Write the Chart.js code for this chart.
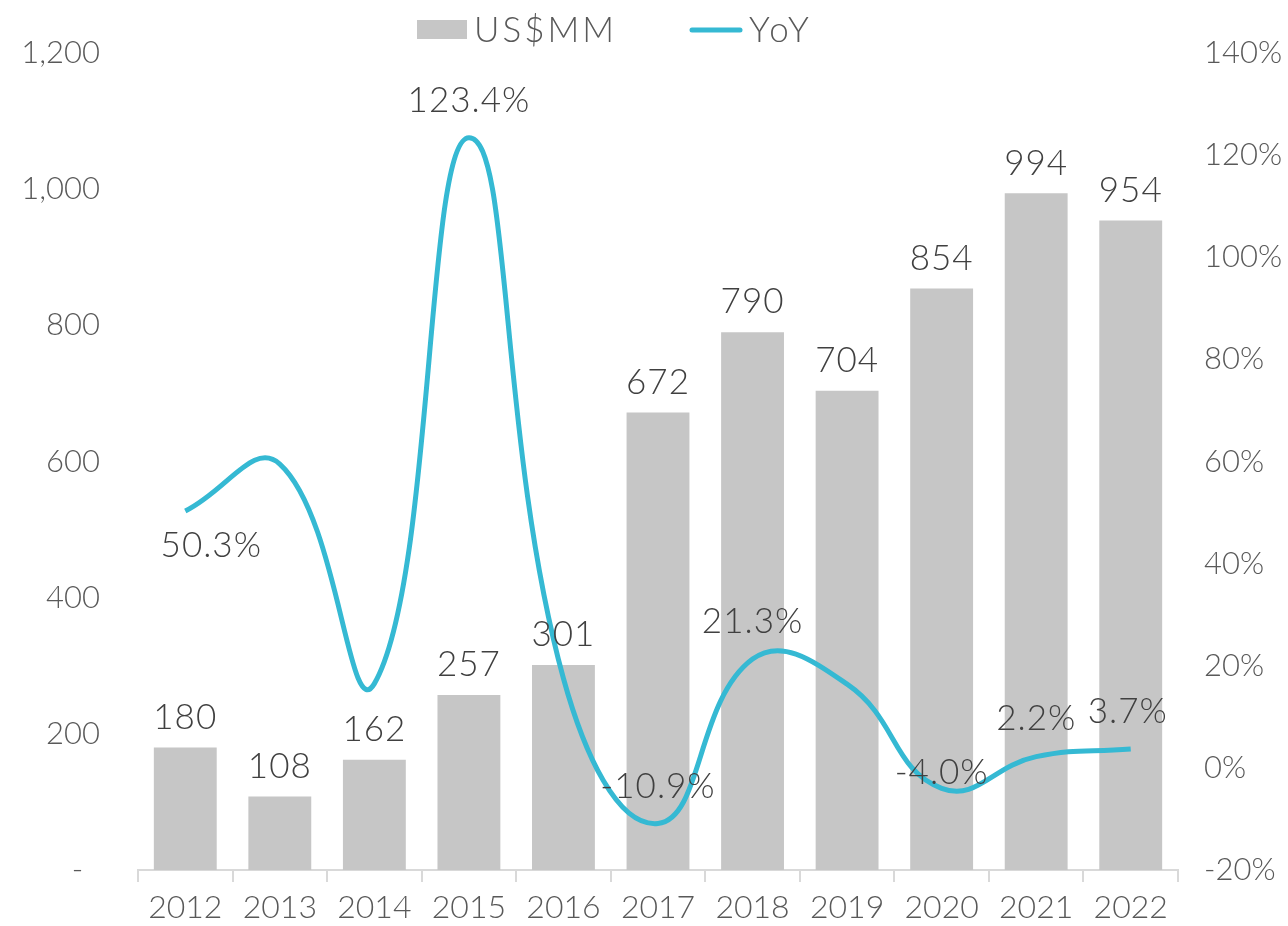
<!DOCTYPE html>
<html>
<head>
<meta charset="utf-8">
<script src="https://cdn.jsdelivr.net/npm/chart.js@4.4.1/dist/chart.umd.min.js"></script>
<style>
  html, body { margin: 0; padding: 0; background: #fff; }
  #wrap { width: 1288px; height: 926px; }
</style>
</head>
<body>
<div id="wrap"><canvas id="myChart" width="1288" height="926"></canvas></div>
<script>
const years = ['2012', '2013', '2014', '2015', '2016', '2017', '2018', '2019', '2020', '2021', '2022'];
const usdMM = [180, 108, 162, 257, 301, 672, 790, 704, 854, 994, 954];
const yoy = [50.3, 59.5, 16.5, 123.4, 17.5, -10.9, 21.3, 16.4, -4.0, 2.2, 3.7];
// which YoY points carry a label ('' = none)
const yoyLabels = ['50.3%', '', '', '123.4%', '', '-10.9%', '21.3%', '', '-4.0%', '2.2%', '3.7%'];

const barColor = '#c6c6c6';
const lineColor = '#35b9d3';
const font = 'Lato, "Open Sans", sans-serif';

const labelPlugin = {
    id: 'valueLabels',
    afterDatasetsDraw(chart) {
        const ctx = chart.ctx;
        ctx.save();
        ctx.fillStyle = '#404040';
        ctx.textAlign = 'center';
        ctx.textBaseline = 'middle';
        ctx.font = '300 35px ' + font;
        ctx.letterSpacing = '1px';
        chart.getDatasetMeta(1).data.forEach((bar, i) => {
            ctx.fillText(usdMM[i], bar.x, bar.y - 30);
        });
        // label shifts relative to the point (x, y up)
        const dx = [26, 0, 0, 0, 0, 0, 0, 0, 0, 0, -3];
        const dy = [-35, 0, 0, 37, 0, 37, 37, 0, 16, 38, 37];
        chart.getDatasetMeta(0).data.forEach((pt, i) => {
            if (!yoyLabels[i]) return;
            ctx.fillText(yoyLabels[i], pt.x + dx[i], pt.y - dy[i]);
        });
        ctx.restore();
    },
    afterDraw(chart) {
        // legend
        const ctx = chart.ctx;
        ctx.save();
        ctx.font = '300 35px ' + font;
        ctx.letterSpacing = '3px';
        ctx.fillStyle = barColor;
        ctx.fillRect(417, 20, 50, 19);
        ctx.fillStyle = '#595959';
        ctx.textBaseline = 'middle';
        ctx.fillText('US$MM', 474, 31);
        ctx.strokeStyle = lineColor;
        ctx.lineWidth = 5;
        ctx.lineCap = 'round';
        ctx.beginPath();
        ctx.moveTo(692, 30);
        ctx.lineTo(740, 30);
        ctx.stroke();
        ctx.fillText('YoY', 749, 31);
        ctx.restore();
    }
};

const ctx = document.getElementById('myChart').getContext('2d');
const myChart = new Chart(ctx, {
    data: {
        labels: years,
        datasets: [{
            type: 'line',
            label: 'YoY',
            data: yoy,
            yAxisID: 'y1',
            borderColor: lineColor,
            borderWidth: 5,
            pointRadius: 0,
            tension: 0.45,
            order: 1
        }, {
            type: 'bar',
            label: 'US$MM',
            data: usdMM,
            yAxisID: 'y',
            backgroundColor: barColor,
            barPercentage: 0.665,
            categoryPercentage: 1,
            order: 2
        }]
    },
    options: {
        responsive: false,
        animation: false,
        devicePixelRatio: 1,
        layout: { padding: { top: 53, bottom: 0, left: 0, right: 0 } },
        plugins: {
            legend: { display: false },
            tooltip: { enabled: false }
        },
        scales: {
            x: {
                grid: {
                    offset: true,
                    drawOnChartArea: false,
                    tickLength: 12,
                    color: '#d9d9d9',
                    lineWidth: 2
                },
                border: { display: true, color: '#d9d9d9', width: 2 },
                ticks: {
                    color: '#595959',
                    font: { family: font, size: 32, weight: 300 },
                    padding: 6,
                    maxRotation: 0
                },
                afterFit(scale) { scale.height = 56; }
            },
            y: {
                position: 'left',
                min: 0,
                max: 1200,
                grid: { display: false },
                border: { display: false },
                ticks: {
                    stepSize: 200,
                    color: '#595959',
                    padding: 30,
                    font: { family: font, size: 31, weight: 300 },
                    callback: v => v === 0 ? '-  ' : v.toLocaleString('en-US')
                },
                afterFit(scale) { scale.width = 138; }
            },
            y1: {
                position: 'right',
                min: -20,
                max: 140,
                grid: { display: false },
                border: { display: false },
                ticks: {
                    stepSize: 20,
                    color: '#595959',
                    padding: 18,
                    font: { family: font, size: 31, weight: 300 },
                    callback: v => v + '%'
                },
                afterFit(scale) { scale.width = 110; }
            }
        }
    },
    plugins: [labelPlugin]
});
</script>
</body>
</html>
